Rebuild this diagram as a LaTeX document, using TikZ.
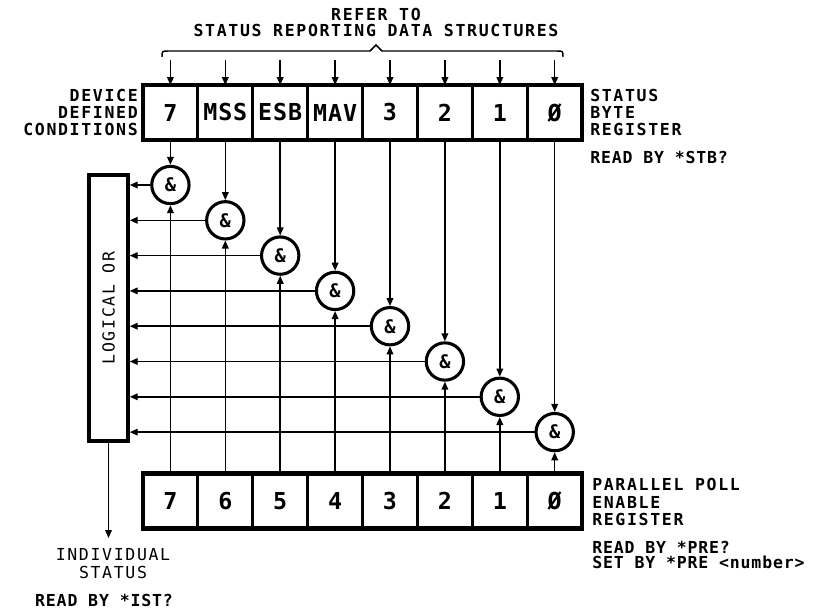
\documentclass[tikz,border=0pt]{standalone}
\usepackage{fontspec}
\newfontfamily\labfont{DejaVu Sans Mono}[LetterSpace=10]
\newfontfamily\readfont{DejaVu Sans Mono}[LetterSpace=5]
\newfontfamily\cellfont{DejaVu Sans Mono}[LetterSpace=4]
\usetikzlibrary{arrows.meta}
\begin{document}
\begin{tikzpicture}[x=0.75pt,y=-0.75pt,
  lab/.style={font=\labfont\bfseries\fontsize{12.4}{13.1}\selectfont, inner sep=0pt},
  rlab/.style={font=\readfont\bfseries\fontsize{12.4}{11.3}\selectfont, inner sep=0pt},
  cell/.style={draw, line width=2.2pt, outer sep=0pt, minimum width=41.2pt, minimum height=41.2pt,
               inner sep=0pt, font=\cellfont\bfseries\fontsize{17.5}{17.5}\selectfont},
  gate/.style={draw, circle, line width=2.3pt, minimum size=28pt, inner sep=0pt,
               font=\cellfont\bfseries\fontsize{14}{14}\selectfont},
  orbox/.style={draw, line width=2.6pt, minimum width=29.25pt, minimum height=199.5pt, inner sep=0pt},
  conn/.style={line width=1.1pt},
  arr/.style={conn, -{Triangle[length=6pt,width=5pt]}}
]
\useasboundingbox (0,0) rectangle (813,611);

% headings
\node[lab] (refer) at (376,14) {REFER TO};
\node[lab] (srds) at (376,30) {STATUS REPORTING DATA STRUCTURES};
\draw[conn] (162,57) .. controls (162,51) .. (168,51) -- (370,51) -- (376,45) -- (382,51) -- (557,51) .. controls (563,51) .. (563,57);

% registers and gates
\foreach \lab [count=\i] in {7,MSS,ESB,MAV,3,2,1,Ø} {
  \node[cell] (t\i) at ({115.5+54.9*\i},112.5) {\lab};
}
\foreach \lab [count=\i] in {7,6,5,4,3,2,1,Ø} {
  \node[cell] (b\i) at ({115.5+54.9*\i},501) {\lab};
}
\draw[line width=3.4pt] (t1.north west) rectangle (t8.south east);
\draw[line width=3.4pt] (b1.north west) rectangle (b8.south east);

\node[orbox] (or) at (108.5,308) {};
\node[inner sep=0pt, rotate=90, font=\labfont\fontsize{12.4}{13.1}\selectfont] (ortext) at (or.center) {LOGICAL OR};

\foreach \i in {1,...,8} {
  \node[gate] (g\i) at ({115.5+54.9*\i},{149.7+35.3*\i}) {\&};
  \coordinate (s\i) at ({115.5+54.9*\i},60);
  \draw[arr] (s\i) -- (t\i.north);
  \draw[arr] (t\i.south) -- (g\i.north);
  \draw[arr] (b\i.north) -- (g\i.south);
  \draw[arr] (g\i.west) -- (g\i.west -| or.east);
}

\coordinate (outend) at (108.5,538);
\draw[arr] (or.south) -- (outend);

% side labels
\node[lab, align=right, anchor=east] (ddc) at (138,112.5) {DEVICE\\DEFINED\\CONDITIONS};
\node[lab, align=left, anchor=west] (sbr) at (590,112.5) {STATUS\\BYTE\\REGISTER};
\node[rlab, anchor=west] (rstb) at (590,157) {READ BY *STB?};
\node[lab, align=left, anchor=west] (ppe) at (592,502) {PARALLEL POLL\\ENABLE\\REGISTER};
\node[rlab, align=left, anchor=west] (rpre) at (592,555) {READ BY *PRE?\\SET BY *PRE <number>};
\node[lab, align=center, font=\labfont\fontsize{12.4}{13.5}\selectfont] (ist) at (113,564) {INDIVIDUAL\\STATUS};
\node[rlab] (rist) at (104,600) {READ BY *IST?};
\end{tikzpicture}
\end{document}
